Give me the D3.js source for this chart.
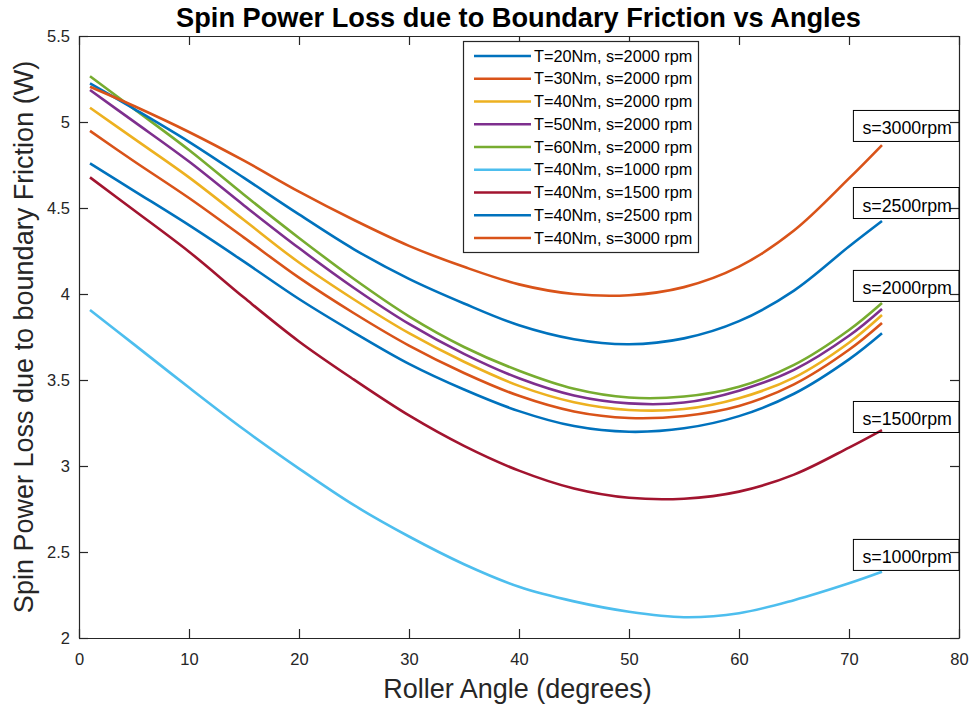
<!DOCTYPE html>
<html>
<head>
<meta charset="utf-8">
<script src="https://cdn.jsdelivr.net/npm/d3@7"></script>
<style>
  body { margin: 0; background: #fff; }
  svg { font-family: "Liberation Sans", Arial, sans-serif; }
</style>
</head>
<body>
<script>
// roller angle samples (degrees)
const angles = [1, 5, 10, 15, 20, 25, 30, 35, 40, 45, 50, 55, 60, 65, 70, 73]

// spin power loss (W)
const t20s2000 = [4.760, 4.600, 4.400, 4.188, 3.971, 3.776, 3.594, 3.445, 3.319, 3.232, 3.199, 3.219, 3.290, 3.420, 3.620, 3.772]
const t30s2000 = [4.948, 4.772, 4.558, 4.328, 4.095, 3.888, 3.700, 3.541, 3.408, 3.317, 3.279, 3.291, 3.349, 3.475, 3.676, 3.832]
const t40s2000 = [5.083, 4.903, 4.678, 4.430, 4.183, 3.968, 3.772, 3.606, 3.466, 3.371, 3.326, 3.331, 3.394, 3.514, 3.717, 3.878]
const t50s2000 = [5.186, 5.002, 4.770, 4.515, 4.267, 4.035, 3.826, 3.652, 3.510, 3.410, 3.364, 3.369, 3.438, 3.559, 3.757, 3.913]
const t60s2000 = [5.266, 5.076, 4.837, 4.577, 4.326, 4.087, 3.870, 3.692, 3.554, 3.449, 3.398, 3.404, 3.461, 3.588, 3.791, 3.948]
const t40s1000 = [3.907, 3.707, 3.456, 3.212, 2.985, 2.772, 2.590, 2.429, 2.298, 2.213, 2.153, 2.121, 2.144, 2.220, 2.318, 2.385]
const t40s1500 = [4.678, 4.487, 4.246, 3.979, 3.724, 3.502, 3.294, 3.117, 2.973, 2.869, 2.815, 2.810, 2.851, 2.950, 3.107, 3.209]
const t40s2500 = [5.225, 5.077, 4.885, 4.675, 4.463, 4.260, 4.088, 3.945, 3.818, 3.737, 3.708, 3.742, 3.842, 4.020, 4.276, 4.424]
const t40s3000 = [5.205, 5.093, 4.942, 4.775, 4.595, 4.430, 4.280, 4.158, 4.056, 4.000, 3.993, 4.040, 4.159, 4.369, 4.672, 4.866]

const seriesNames = [
    "T=20Nm, s=2000 rpm",
    "T=30Nm, s=2000 rpm",
    "T=40Nm, s=2000 rpm",
    "T=50Nm, s=2000 rpm",
    "T=60Nm, s=2000 rpm",
    "T=40Nm, s=1000 rpm",
    "T=40Nm, s=1500 rpm",
    "T=40Nm, s=2500 rpm",
    "T=40Nm, s=3000 rpm"
]
const seriesValues = [t20s2000, t30s2000, t40s2000, t50s2000, t60s2000, t40s1000, t40s1500, t40s2500, t40s3000]
const colors = ["#0072BD", "#D95319", "#EDB120", "#7E2F8E", "#77AC30", "#4DBEEE", "#A2142F", "#0072BD", "#D95319"]

// speed annotations
const labelTexts = ["s=3000rpm", "s=2500rpm", "s=2000rpm", "s=1500rpm", "s=1000rpm"]
const labelX = 70.4
const labelY = [4.977, 4.529, 4.047, 3.285, 2.483]

const xTicks = [0, 10, 20, 30, 40, 50, 60, 70, 80]
const yTicks = [2, 2.5, 3, 3.5, 4, 4.5, 5, 5.5]

const w = 970
const h = 708
const pLeft = 79, pRight = 959, pTop = 36, pBottom = 638
const ink = "#262626"

const svg = d3.select("body")
              .append("svg")
              .attr("width", w)
              .attr("height", h)

const xScale = d3.scaleLinear().domain([0, 80]).range([pLeft, pRight])
const yScale = d3.scaleLinear().domain([2, 5.5]).range([pBottom, pTop])

// curves
const line = d3.line()
               .x(d => xScale(d[0]))
               .y(d => yScale(d[1]))
               .curve(d3.curveCatmullRom.alpha(0.5))

seriesValues.forEach((vals, i) => {
    svg.append("path")
       .datum(angles.map((a, j) => [a, vals[j]]))
       .attr("d", line)
       .attr("fill", "none")
       .attr("stroke", colors[i])
       .attr("stroke-width", 2.6)
})

// axes (box with inward ticks)
const styleAxis = g => {
    g.selectAll("path").attr("stroke", ink).attr("stroke-width", 1.2)
    g.selectAll("line").attr("stroke", ink).attr("stroke-width", 1.2)
    g.selectAll("text").attr("fill", ink).style("font-size", "16.5px")
}

svg.append("g")
   .attr("transform", "translate(0," + pBottom + ")")
   .call(d3.axisBottom(xScale).tickValues(xTicks).tickSizeInner(-9).tickSizeOuter(0).tickPadding(15))
   .call(styleAxis)

svg.append("g")
   .attr("transform", "translate(0," + pTop + ")")
   .call(d3.axisTop(xScale).tickValues(xTicks).tickSizeInner(-9).tickSizeOuter(0).tickFormat(""))
   .call(styleAxis)

svg.append("g")
   .attr("transform", "translate(" + pLeft + ",0)")
   .call(d3.axisLeft(yScale).tickValues(yTicks).tickSizeInner(-9).tickSizeOuter(0).tickPadding(9).tickFormat(d3.format("")))
   .call(styleAxis)

svg.append("g")
   .attr("transform", "translate(" + pRight + ",0)")
   .call(d3.axisRight(yScale).tickValues(yTicks).tickSizeInner(-9).tickSizeOuter(0).tickFormat(""))
   .call(styleAxis)

// speed labels with boxes
labelTexts.forEach((t, i) => {
    const x0 = xScale(labelX)
    const yc = yScale(labelY[i])
    svg.append("rect")
       .attr("x", x0)
       .attr("y", yc - 15.5)
       .attr("width", pRight - x0)
       .attr("height", 31)
       .attr("fill", "none")
       .attr("stroke", "#000")
       .attr("stroke-width", 1)
    svg.append("text")
       .attr("x", x0 + 9)
       .attr("y", yc + 8.5)
       .attr("fill", "#000")
       .style("font-size", "17.8px")
       .text(t)
})

// legend
const lg = svg.append("g")
lg.append("rect")
  .attr("x", 463.5).attr("y", 41.5)
  .attr("width", 235).attr("height", 211)
  .attr("fill", "#fff")
  .attr("stroke", ink)
  .attr("stroke-width", 1.2)

seriesNames.forEach((name, i) => {
    const yy = 56 + i * 22.75
    lg.append("line")
      .attr("x1", 474).attr("x2", 531)
      .attr("y1", yy).attr("y2", yy)
      .attr("stroke", colors[i])
      .attr("stroke-width", 2.6)
    lg.append("text")
      .attr("x", 534)
      .attr("y", yy + 5.5)
      .attr("fill", "#000")
      .style("font-size", "16.3px")
      .text(name)
})

// titles
svg.append("text")
   .attr("x", 518.5)
   .attr("y", 27)
   .attr("text-anchor", "middle")
   .attr("font-weight", "bold")
   .attr("fill", "#000")
   .style("font-size", "27.2px")
   .text("Spin Power Loss due to Boundary Friction vs Angles")

svg.append("text")
   .attr("x", 517.5)
   .attr("y", 698)
   .attr("text-anchor", "middle")
   .attr("fill", ink)
   .style("font-size", "27px")
   .text("Roller Angle (degrees)")

svg.append("text")
   .attr("transform", "translate(33,337) rotate(-90)")
   .attr("text-anchor", "middle")
   .attr("fill", ink)
   .style("font-size", "27px")
   .text("Spin Power Loss due to boundary Friction (W)")
</script>
</body>
</html>
